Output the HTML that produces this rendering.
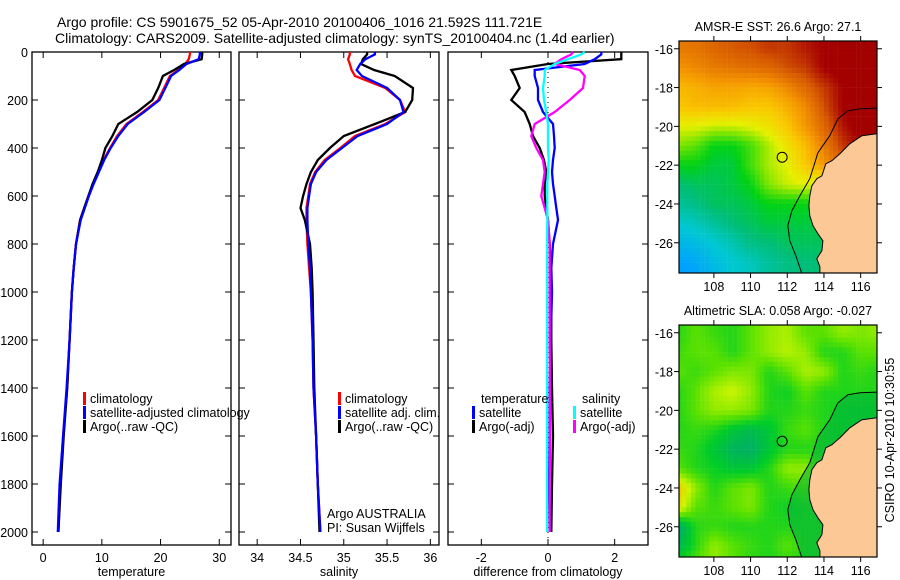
<!DOCTYPE html>
<html><head><meta charset="utf-8"><style>
html,body{margin:0;padding:0;background:#fff;}
svg{display:block;font-family:"Liberation Sans",sans-serif;}
text{font-size:12.5px;fill:#000;}
</style></head><body>
<svg id="c" width="900" height="580" viewBox="0 0 900 580" xmlns="http://www.w3.org/2000/svg">
<text x="57" y="27" text-anchor="start" style="font-size:14px">Argo profile: CS 5901675_52 05-Apr-2010 20100406_1016 21.592S 111.721E</text>
<text x="55" y="43" text-anchor="start" style="font-size:14px">Climatology: CARS2009. Satellite-adjusted climatology: synTS_20100404.nc (1.4d earlier)</text>
</svg>
<script>
// ---- profile data ----
const depths=[0,10,30,50,75,100,150,200,250,300,350,400,450,500,550,600,650,700,800,900,1000,1200,1400,1600,1800,2000];
const tempClim=[25.0,25.0,24.8,24.2,23.0,21.6,20.6,19.6,17.0,14.2,12.6,11.4,10.3,9.4,8.5,7.7,7.0,6.3,5.6,5.2,4.9,4.5,4.1,3.4,2.9,2.6];
const tempSat=[26.7,26.7,26.5,24.4,23.2,21.8,20.8,19.8,17.2,14.4,12.8,11.5,10.4,9.5,8.6,7.8,7.1,6.4,5.6,5.2,4.9,4.5,4.0,3.4,2.8,2.5];
const tempArgo=[27.1,27.1,27.0,24.0,22.3,20.4,19.6,18.6,16.0,12.8,11.8,10.6,10.0,9.3,8.4,7.7,7.0,6.3,5.6,5.2,4.9,4.5,4.1,3.5,3.0,2.6];
const salClim=[35.07,35.07,35.05,35.07,35.09,35.13,35.48,35.65,35.71,35.48,35.13,34.96,34.78,34.67,34.61,34.59,34.57,34.57,34.58,34.60,34.62,34.64,34.65,34.68,34.70,34.73];
const salSat=[35.36,35.36,35.25,35.19,35.15,35.21,35.50,35.65,35.69,35.50,35.16,34.98,34.80,34.68,34.62,34.60,34.58,34.58,34.59,34.61,34.62,34.64,34.65,34.68,34.70,34.73];
const salArgo=[35.27,35.27,35.22,35.20,35.35,35.59,35.80,35.79,35.71,35.36,35.00,34.84,34.70,34.62,34.57,34.53,34.50,34.55,34.61,34.63,34.64,34.65,34.66,34.68,34.70,34.72];
const dTempSat=[1.6,1.6,1.4,1.1,-0.4,-0.4,-0.3,-0.3,-0.15,0.15,0.18,0.2,0.15,0.12,0.15,0.2,0.25,0.3,0.15,0.1,0.12,0.08,0.05,0.05,0.03,0.05];
const dTempArgo=[2.2,2.2,2.2,0.0,-1.1,-1.0,-0.85,-1.1,-0.7,-0.55,-0.45,-0.25,-0.12,-0.05,-0.1,-0.1,-0.05,0.0,0.05,0.08,0.1,0.1,0.12,0.15,0.12,0.1];
const dSalSat=[1.1,1.0,0.6,0.2,-0.1,-0.1,-0.15,-0.12,-0.05,0.0,0.0,0.0,0.02,0.0,-0.02,-0.02,-0.02,-0.02,-0.03,-0.03,-0.03,-0.03,-0.03,-0.03,-0.03,-0.03];
const dSalArgo=[0.75,0.7,0.4,0.2,0.95,1.1,1.05,0.65,0.2,-0.4,-0.5,-0.35,-0.15,-0.1,-0.15,-0.2,-0.1,0.0,0.05,0.05,0.05,0.05,0.06,0.06,0.05,0.05];
const depthTicks=[0,200,400,600,800,1000,1200,1400,1600,1800,2000];
const tempTicks=[0,10,20,30];
const salTicks=[34,34.5,35,35.5,36];
const diffTicks=[-2,0,2];
// ---- map data (lat rows -16..-28, lon cols 106..117) ----
const mapLons=[106,107,108,109,110,111,112,113,114,115,116,117];
const mapLats=[-16,-17,-18,-19,-20,-21,-22,-23,-24,-25,-26,-27,-28];
const sstGrid=[
[.82,.83,.85,.87,.88,.9,.9,.93,.95,.97,.97,.97],
[.78,.8,.82,.83,.84,.85,.88,.9,.95,.97,.97,.97],
[.72,.74,.76,.76,.75,.76,.8,.85,.9,.95,.97,.97],
[.7,.72,.72,.72,.7,.7,.74,.8,.88,.95,.97,.97],
[.62,.62,.6,.6,.62,.65,.7,.78,.85,.93,.97,.97],
[.55,.52,.45,.45,.5,.58,.65,.72,.82,.9,.95,.95],
[.45,.45,.42,.42,.5,.58,.62,.7,.78,.85,.9,.9],
[.38,.4,.4,.42,.45,.55,.6,.62,.6,.55,.5,.5],
[.35,.37,.4,.4,.42,.45,.45,.45,.45,.45,.45,.45],
[.3,.32,.35,.38,.4,.42,.42,.42,.42,.42,.42,.42],
[.25,.27,.3,.33,.37,.38,.4,.4,.4,.4,.4,.4],
[.2,.22,.27,.3,.32,.35,.37,.38,.38,.38,.38,.38],
[.18,.2,.25,.3,.32,.35,.37,.38,.38,.38,.38,.38]];
const slaGrid=[
[.5,.55,.52,.5,.55,.6,.62,.55,.55,.6,.58,.6],
[.52,.55,.55,.5,.55,.6,.63,.6,.5,.5,.55,.55],
[.55,.52,.55,.58,.58,.5,.55,.62,.6,.5,.52,.5],
[.5,.55,.62,.65,.6,.5,.48,.55,.5,.5,.5,.5],
[.5,.55,.6,.6,.58,.5,.5,.52,.5,.48,.48,.48],
[.5,.52,.5,.45,.42,.45,.52,.55,.5,.48,.48,.48],
[.52,.5,.45,.4,.38,.45,.5,.5,.5,.48,.48,.48],
[.55,.5,.48,.45,.45,.5,.6,.6,.52,.5,.5,.5],
[.75,.6,.5,.55,.58,.5,.52,.55,.5,.5,.5,.5],
[.7,.55,.52,.55,.58,.5,.48,.5,.5,.5,.5,.5],
[.35,.5,.52,.5,.5,.5,.5,.5,.5,.5,.5,.5],
[.4,.5,.6,.55,.52,.5,.55,.5,.5,.5,.5,.5],
[.5,.55,.6,.55,.5,.5,.5,.5,.5,.5,.5,.5]];
const coastLon=[117.2,116.88,116.07,115.41,114.87,114.43,114.10,113.89,113.61,113.34,113.23,113.18,113.23,113.40,113.67,113.94,113.89,113.61,113.78,113.78,117.2];
const coastLat=[-20.38,-20.38,-20.48,-20.90,-21.41,-21.77,-21.93,-22.55,-22.70,-23.06,-23.58,-24.09,-24.61,-25.12,-25.54,-25.90,-26.41,-26.82,-27.24,-27.8,-27.8];
const shelfLon=[117.2,115.96,115.30,114.76,114.32,113.67,113.45,113.23,112.69,112.25,112.03,112.14,112.47,112.80,112.9];
const shelfLat=[-19.05,-19.09,-19.20,-19.61,-20.48,-21.36,-22.03,-22.70,-23.58,-24.35,-25.12,-25.90,-26.67,-27.60,-27.8];
const floatLon=111.721, floatLat=-21.592;
const latTicks=[-16,-18,-20,-22,-24,-26];
const lonTicks=[108,110,112,114,116];

const NS='http://www.w3.org/2000/svg';
const svg=document.getElementById('c');
function el(tag,attrs,parent){const e=document.createElementNS(NS,tag);for(const k in attrs)e.setAttribute(k,attrs[k]);(parent||svg).appendChild(e);return e;}
function txt(x,y,s,anchor,parent){const t=el('text',{x:x,y:y,'text-anchor':anchor||'start'},parent);t.textContent=s;return t;}

const TOP=52,BOT=545;
const yD=d=>TOP+d*0.24;

function panel(name,x0,x1,xmin,xmax){
  const xs=v=>x0+(v-xmin)/(xmax-xmin)*(x1-x0);
  const g=el('g',{});
  
  
  return {g,xs,x0,x1};
}
function frame(p,xticks,xfmt,xlabel,showY){
  const g=p.g;
  const r=el('rect',{x:p.x0,y:TOP,width:p.x1-p.x0,height:BOT-TOP,fill:'none',stroke:'#000','stroke-width':1.3},g);
  
  
  depthTicks.forEach(d=>{
    el('line',{x1:p.x0,x2:p.x0+6,y1:yD(d),y2:yD(d),stroke:'#000'},g);
    el('line',{x1:p.x1,x2:p.x1-6,y1:yD(d),y2:yD(d),stroke:'#000'},g);
    if(showY){const t=txt(p.x0-4,yD(d)+5,String(d),'end',g);
      
      }
  });
  xticks.forEach(v=>{
    const x=p.xs(v);
    el('line',{x1:x,x2:x,y1:BOT,y2:BOT-6,stroke:'#000'},g);
    el('line',{x1:x,x2:x,y1:TOP,y2:TOP+6,stroke:'#000'},g);
    const t=txt(x,BOT+17,xfmt(v),'middle',g);
    
    
  });
  const l=txt((p.x0+p.x1)/2,BOT+31,xlabel,'middle',g);
  
  
}
function series(p,vals,color,name,w){
  const pts=vals.map((v,i)=>p.xs(v).toFixed(1)+','+yD(depths[i]).toFixed(1)).join(' ');
  const pl=el('polyline',{points:pts,fill:'none',stroke:color,'stroke-width':w||2.3,'stroke-linejoin':'miter'},p.g);
  
  
}
function legend(p,x,y,color,label,name){
  const m=el('rect',{x:x,y:y-11,width:3,height:13,fill:color},p.g);
  
  
  if(label!==null){const t=txt(x+7,y,label,'start',p.g);
  
  }
}

// Panel 1 temperature
const p1=panel('temperature-panel',32,231,-1.9,32.0);
frame(p1,tempTicks,String,'temperature',true);
series(p1,tempClim,'#f00','temp-climatology-line');
series(p1,tempArgo,'#000','temp-argo-line');
series(p1,tempSat,'#00f','temp-satellite-line');
legend(p1,83,403,'#f00','climatology','legend-climatology');
legend(p1,83,417,'#00f','satellite-adjusted climatology','legend-satellite');
legend(p1,83,431,'#000','Argo(..raw -QC)','legend-argo');

// Panel 2 salinity
const p2=panel('salinity-panel',239,439,33.79,36.1);
frame(p2,salTicks,String,'salinity',false);
series(p2,salClim,'#f00','sal-climatology-line');
series(p2,salArgo,'#000','sal-argo-line');
series(p2,salSat,'#00f','sal-satellite-line');
legend(p2,338,403,'#f00','climatology','legend-sal-climatology');
legend(p2,338,417,'#00f','satellite adj. clim.','legend-sal-satellite');
legend(p2,338,431,'#000','Argo(..raw -QC)','legend-sal-argo');
const a1=txt(327,518,'Argo AUSTRALIA','start',p2.g);


const a2=txt(327,532,'PI: Susan Wijffels','start',p2.g);



// Panel 3 differences
const p3=panel('difference-panel',448,648,-3,3);
frame(p3,diffTicks,String,'difference from climatology',false);
const zl=el('line',{x1:p3.xs(0),x2:p3.xs(0),y1:TOP,y2:BOT,stroke:'#000','stroke-dasharray':'1,4'},p3.g);


series(p3,dTempArgo,'#000','diff-temp-argo-line');
series(p3,dTempSat,'#00f','diff-temp-satellite-line');
series(p3,dSalArgo,'#f0f','diff-sal-argo-line');
series(p3,dSalSat,'#0ff','diff-sal-satellite-line');
const lt=txt(481,403,'temperature','start',p3.g);


const ls=txt(582,403,'salinity','start',p3.g);


legend(p3,472,417,'#00f','satellite','legend-diff-temp-sat');
legend(p3,472,431,'#000','Argo(-adj)','legend-diff-temp-argo');
legend(p3,573,417,'#0ff','satellite','legend-diff-sal-sat');
legend(p3,573,431,'#f0f','Argo(-adj)','legend-diff-sal-argo');

// ---- maps ----
function cmap(stops,v){
  v=Math.max(stops[0][0],Math.min(stops[stops.length-1][0],v));
  for(let i=1;i<stops.length;i++){if(v<=stops[i][0]){const a=stops[i-1],b=stops[i];const t=(v-a[0])/(b[0]-a[0]||1);
    return 'rgb('+[1,2,3].map(k=>Math.round(a[k]+(b[k]-a[k])*t)).join(',')+')';}}
  const s=stops[stops.length-1];return 'rgb('+s[1]+','+s[2]+','+s[3]+')';
}
const sstStops=[[0,0,90,255],[0.2,0,160,255],[0.3,0,200,210],[0.38,0,190,120],[0.45,0,210,20],[0.55,130,230,0],[0.62,230,240,0],[0.7,250,200,0],[0.78,245,150,0],[0.87,215,90,0],[0.95,165,0,0],[1,160,0,0]];
const slaStops=[[0.3,0,170,150],[0.4,0,180,90],[0.47,0,205,40],[0.55,90,225,0],[0.65,205,245,0],[0.75,250,190,0],[0.85,250,150,0]];
function sample(grid,lon,lat){
  let c=(lon-mapLons[0]);let r=(mapLats[0]-lat);
  c=Math.max(0,Math.min(mapLons.length-1.001,c));r=Math.max(0,Math.min(mapLats.length-1.001,r));
  const c0=Math.floor(c),r0=Math.floor(r),fc=c-c0,fr=r-r0;
  const g=(i,j)=>grid[i][j];
  return g(r0,c0)*(1-fc)*(1-fr)+g(r0,c0+1)*fc*(1-fr)+g(r0+1,c0)*(1-fc)*fr+g(r0+1,c0+1)*fc*fr;
}
function map(name,top,grid,stops,title,shelfFill){
  const L=679,R=877,H=232;
  const xs=lon=>L+(lon-106.1)*18.35;
  const ys=lat=>top+(-15.6-lat)*19.4;
  const g=el('g',{});
  
  
  const cid='clip'+top;
  const cp=el('clipPath',{id:cid},g);el('rect',{x:L,y:top,width:R-L,height:H},cp);
  const inner=el('g',{'clip-path':'url(#'+cid+')'},g);
  const cells=el('g',{},inner);
  
  
  for(let lat=-15.5;lat>-27.75;lat-=0.25){
    for(let lon=106;lon<117.2;lon+=0.25){
      const v=sample(grid,lon+0.125,lat-0.125);
      el('rect',{x:xs(lon).toFixed(1),y:ys(lat).toFixed(1),width:4.8,height:5.1,fill:cmap(stops,v)},cells);
    }
  }
  if(shelfFill){
    const sp=shelfLon.map((l,i)=>xs(l).toFixed(1)+','+ys(shelfLat[i]).toFixed(1)).concat([xs(117.2)+','+ys(-27.8)]).join(' ');
    el('polygon',{points:sp,fill:shelfFill,opacity:0.5},inner);
  }
  const land=el('polygon',{points:coastLon.map((l,i)=>xs(l).toFixed(1)+','+ys(coastLat[i]).toFixed(1)).join(' '),fill:'#fcc896',stroke:'#000','stroke-width':1},inner);
  
  
  const sh=el('polyline',{points:shelfLon.map((l,i)=>xs(l).toFixed(1)+','+ys(shelfLat[i]).toFixed(1)).join(' '),fill:'none',stroke:'#000','stroke-width':1},inner);
  
  
  const fc=el('circle',{cx:xs(floatLon),cy:ys(floatLat),r:5,fill:'none',stroke:'#000','stroke-width':1},g);
  
  
  el('rect',{x:L,y:top,width:R-L,height:H,fill:'none',stroke:'#000','stroke-width':1.2},g);
  latTicks.forEach(v=>{const y=ys(v);
    el('line',{x1:L-5,x2:L,y1:y,y2:y,stroke:'#000'},g);el('line',{x1:R,x2:R+5,y1:y,y2:y,stroke:'#000'},g);
    const t=txt(L-6,y+5,String(v),'end',g);
    
    });
  lonTicks.forEach(v=>{const x=xs(v);
    el('line',{x1:x,x2:x,y1:top+H,y2:top+H+5,stroke:'#000'},g);el('line',{x1:x,x2:x,y1:top,y2:top-5,stroke:'#000'},g);
    const t=txt(x,top+H+18,String(v),'middle',g);
    
    });
  const tt=txt((L+R)/2,top-10,title,'middle',g);
  
  
}
map('sst-map',41,sstGrid,sstStops,'AMSR-E SST: 26.6 Argo: 27.1',null);
map('sla-map',325,slaGrid,slaStops,'Altimetric SLA: 0.058 Argo: -0.027','#00b040');
const ts=txt(0,0,'CSIRO 10-Apr-2010 10:30:55','middle');
ts.setAttribute('transform','translate(894,440) rotate(-90)');


</script>
</body></html>
